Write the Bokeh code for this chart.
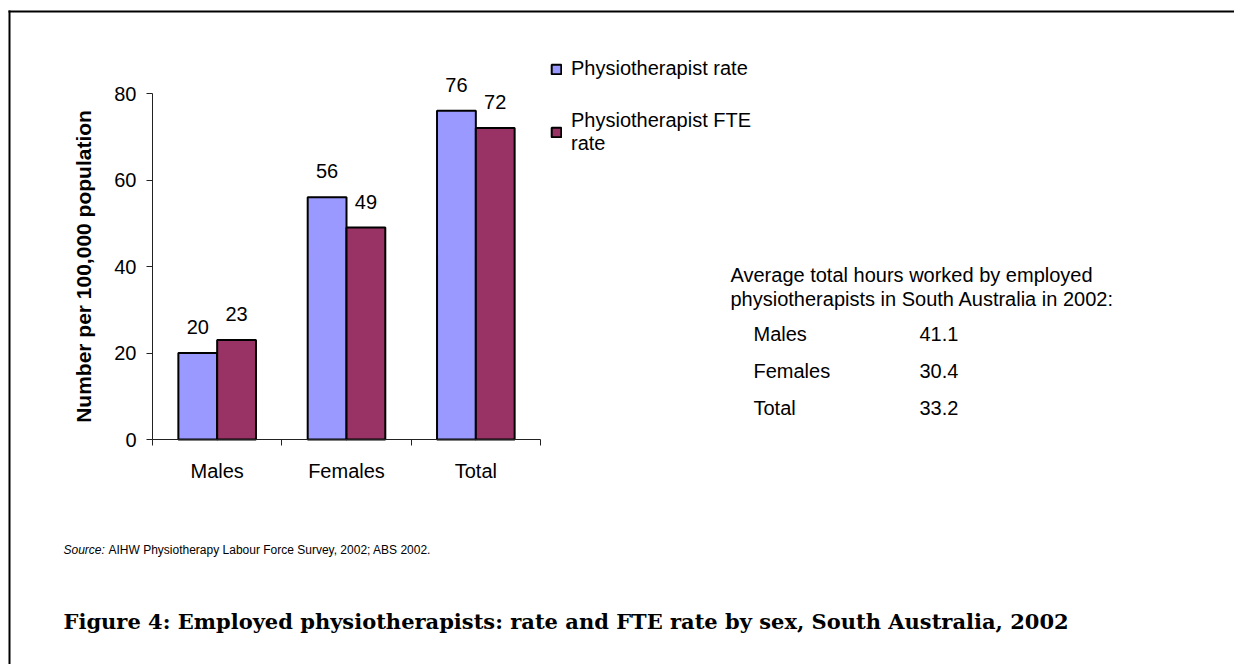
import numpy as np
from bokeh.plotting import figure
from bokeh.models import (ColumnDataSource, Range1d, LinearAxis, FixedTicker, CustomJSTickFormatter,
                          LabelSet, Label, Legend, LegendItem, BoxAnnotation)
from bokeh.core.properties import value
from bokeh.transform import dodge
from bokeh.embed import file_html
from bokeh.resources import INLINE

# ---------------- data ----------------
categories = ["Males", "Females", "Total"]
rate = [20, 56, 76]
fte_rate = [23, 49, 72]
series_names = ["Physiotherapist rate", "Physiotherapist FTE\nrate"]
y_ticks = [0, 20, 40, 60, 80]
y_title = "Number per 100,000 population"
hours_heading = ["Average total hours worked by employed",
                 "physiotherapists in South Australia in 2002:"]
hours_groups = ["Males", "Females", "Total"]
hours_worked = [41.1, 30.4, 33.2]
source_prefix = "Source:"
source_text = "AIHW Physiotherapy Labour Force Survey, 2002; ABS 2002."
caption = "Figure 4: Employed physiotherapists: rate and FTE rate by sex, South Australia, 2002"

# ---------------- style / layout ----------------
BLUE = "#9999FF"
PLUM = "#993366"
FONT = "Liberation Sans"
SERIF = "DejaVu Serif"
FS = "20px"

W, H = 1234, 664
AX_L, AX_R, AX_T, AX_B = 152, 540, 93, 439     # chart box in page px


def sx(X):   # page x -> canvas screen x
    return X


def sy(Y):   # page y -> canvas screen y (upwards)
    return H - Y


x_px = (AX_R - AX_L) / len(categories)
y_px = (AX_B - AX_T) / y_ticks[-1]

p = figure(width=W, height=H, output_backend="svg", toolbar_location=None,
           x_range=Range1d(-AX_L / x_px, (W - AX_L) / x_px),
           y_range=Range1d(-(H - AX_B) / y_px, AX_B / y_px),
           x_axis_type=None, y_axis_type=None,
           min_border_left=0, min_border_right=0, min_border_top=0, min_border_bottom=0)
p.outline_line_color = None
p.background_fill_color = "white"
p.border_fill_color = "white"

xpos = np.arange(len(categories)) + 0.5
src = ColumnDataSource(dict(x=xpos, cat=categories, rate=rate, fte=fte_rate,
                            rate_lbl=[str(v) for v in rate], fte_lbl=[str(v) for v in fte_rate]))

r1 = p.vbar(x=dodge("x", -0.15), top="rate", width=0.3, source=src,
            fill_color=BLUE, line_color="black", line_width=2)
r2 = p.vbar(x=dodge("x", 0.15), top="fte", width=0.3, source=src,
            fill_color=PLUM, line_color="black", line_width=2)

# x axis: category names centred, ticks at category boundaries
xaxis = LinearAxis(
    fixed_location=0, bounds=(0, len(categories)),
    ticker=FixedTicker(ticks=[float(v) for v in xpos], minor_ticks=list(range(len(categories) + 1))),
    formatter=CustomJSTickFormatter(args=dict(cats=categories), code="return cats[Math.floor(tick)]"),
    major_tick_line_color=None, major_tick_in=0, major_tick_out=0,
    minor_tick_in=0, minor_tick_out=6, minor_tick_line_color="#222222",
    axis_line_color="#222222", axis_line_width=1,
    major_label_text_font=FONT, major_label_text_font_size=FS,
    major_label_text_color="black", major_label_standoff=14)
p.add_layout(xaxis, "below")

yaxis = LinearAxis(
    fixed_location=0, bounds=(0, y_ticks[-1]),
    ticker=FixedTicker(ticks=y_ticks, minor_ticks=[]),
    major_tick_in=0, major_tick_out=6, major_tick_line_color="#222222",
    axis_line_color="#222222", axis_line_width=1,
    major_label_text_font=FONT, major_label_text_font_size=FS,
    major_label_text_color="black", major_label_standoff=10,
    axis_label=y_title, axis_label_text_font=FONT, axis_label_text_font_size="21px",
    axis_label_text_font_style="bold", axis_label_text_color="black",
    axis_label_standoff=16)
p.add_layout(yaxis, "left")

# value labels
for col, lbl, off in (("rate", "rate_lbl", -0.15), ("fte", "fte_lbl", 0.15)):
    p.add_layout(LabelSet(x=dodge("x", off), y=col, text=lbl, source=src, y_offset=19,
                          text_align="center", text_baseline="alphabetic",
                          text_font=value(FONT), text_font_size=value(FS), text_color="black"))

# legend
legend = Legend(items=[LegendItem(label=series_names[0], renderers=[r1]),
                       LegendItem(label=series_names[1], renderers=[r2])],
                location=(sx(550), sy(155)), glyph_width=12, glyph_height=12,
                label_standoff=9, label_text_font=FONT, label_text_font_size=FS,
                label_text_color="black", border_line_color=None,
                background_fill_alpha=0, padding=0, margin=0, spacing=29)
p.add_layout(legend)

# average hours block
for i, line in enumerate(hours_heading):
    p.add_layout(Label(x=sx(730), y=sy(274 + 24 * i), x_units="screen", y_units="screen",
                       text=line, text_font=FONT, text_font_size=FS, text_color="black",
                       text_baseline="middle"))
hsrc = ColumnDataSource(dict(name=hours_groups, val=[f"{v:.1f}" for v in hours_worked],
                             y=[sy(333 + 37 * i) for i in range(len(hours_groups))]))
p.add_layout(LabelSet(x=sx(753), y="y", text="name", source=hsrc, x_units="screen", y_units="screen",
                      text_font=value(FONT), text_font_size=value(FS), text_color="black",
                      text_baseline="middle"))
p.add_layout(LabelSet(x=sx(919), y="y", text="val", source=hsrc, x_units="screen", y_units="screen",
                      text_font=value(FONT), text_font_size=value(FS), text_color="black",
                      text_baseline="middle"))

# source note
p.add_layout(Label(x=sx(63), y=sy(549), x_units="screen", y_units="screen", text=source_prefix,
                   text_font=FONT, text_font_size="12px", text_font_style="italic",
                   text_color="black", text_baseline="middle"))
p.add_layout(Label(x=sx(108), y=sy(549), x_units="screen", y_units="screen", text=source_text,
                   text_font=FONT, text_font_size="12px", text_color="black", text_baseline="middle"))

# caption
p.add_layout(Label(x=sx(63), y=sy(621), x_units="screen", y_units="screen", text=caption,
                   text_font=SERIF, text_font_size="21px", text_font_style="bold",
                   text_color="black", text_baseline="middle"))

# page border (top and left rules)
p.add_layout(BoxAnnotation(left=sx(8), right=sx(W + 20), top=sy(10), bottom=sy(12),
                           left_units="screen", right_units="screen", top_units="screen",
                           bottom_units="screen", fill_color="black", fill_alpha=1, line_color=None))
p.add_layout(BoxAnnotation(left=sx(8), right=sx(10), top=sy(10), bottom=sy(H + 20),
                           left_units="screen", right_units="screen", top_units="screen",
                           bottom_units="screen", fill_color="black", fill_alpha=1, line_color=None))

open("out.html", "w").write(file_html(p, INLINE))
